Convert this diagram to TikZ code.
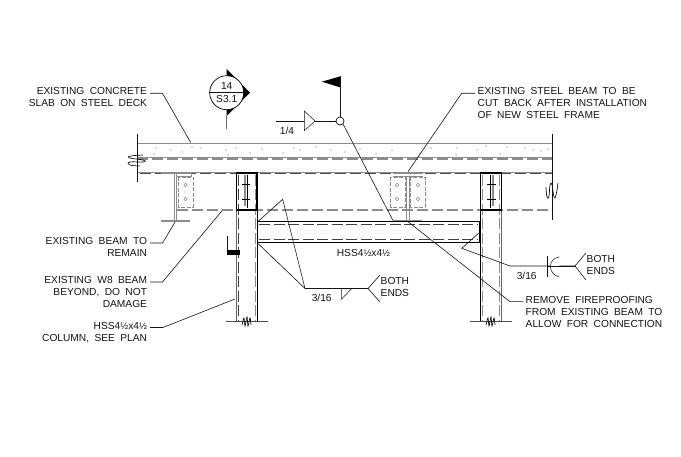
\documentclass[tikz,border=0pt]{standalone}
\usepackage{fontspec}
\setmainfont[WordSpace=1.9]{Liberation Sans}
\definecolor{exist}{gray}{0.55}
\definecolor{lightdot}{gray}{0.72}
\definecolor{ink}{gray}{0.08}
\newcommand{\halfmark}{{\fontsize{9.5}{10}\selectfont ½}}
\tikzset{
  note/.style={font=\fontsize{10.2}{12}\selectfont,text=ink,inner sep=0pt,outer sep=0pt},
  noteR/.style={note,anchor=north east,align=right},
  noteL/.style={note,anchor=north west,align=left},
  leader/.style={draw=ink,line width=0.6pt},
  weldline/.style={draw=ink,line width=0.7pt},
  weldsym/.style={draw=ink,line width=0.5pt},
  existsolid/.style={draw=exist,line width=1.1pt},
  existdash/.style={draw=exist,line width=1.3pt,dash pattern=on 11pt off 4pt},
  hssline/.style={draw=black,line width=1pt},
  hssdash/.style={draw=black!75,line width=1pt,dash pattern=on 11pt off 3.5pt},
  conn/.style={draw=exist,line width=0.8pt},
  plate/.style={draw=exist,line width=0.8pt,dash pattern=on 4pt off 1.5pt},
  hole/.style={circle,draw=exist,line width=0.6pt,inner sep=0pt,minimum size=3.6pt},
  heavy/.style={draw=black,line width=1.6pt},
  brk/.style={draw=ink,line width=0.7pt},
}
\begin{document}
\begin{tikzpicture}[x=1pt,y=-1pt]
\useasboundingbox (0,0) rectangle (681,457);
\fill[white] (0,0) rectangle (681,457);

% slab and beam lines
\draw[existsolid] (137,143.5) -- (552,143.5);
\draw[existsolid,line width=0.7pt] (137,157.6) -- (552,157.6);
\draw[existdash] (137,159) -- (552,159);
\draw[existsolid] (137,172.4) -- (552,172.4);
\draw[existdash,draw=black!70] (140,173.6) -- (552,173.6);
\draw[existdash] (177,210) -- (552,210);
% concrete stipple
\foreach \px/\py in {154/154,156/148,171/150,182/152,192/147,201/148,226/150,228/155,236/148,250/153,262/149,283/153,294/148,300/150,316/147,331/150,345/152,360/149,376/154,392/150,420/153,431/148,456/155,457/148,477/150,486/146,500/154,507/147,525/148,533/150,541/151,548/149}
  \fill[lightdot] (\px,\py) circle (0.8pt);

% break lines slab
\draw[brk] (137,134) -- (137,182);
\draw[brk] (552,134) -- (552,220);
\draw[brk] plot[smooth,tension=0.8] coordinates {(143,155) (131,156) (130,158) (143,160) (143,162) (130,162) (130,165) (140,166)};
\draw[brk] plot[smooth,tension=0.8] coordinates {(558,183) (556,195) (554,197) (552,185) (550,185) (549,196) (547,197) (546,187)};

% left beam
\draw[conn,line width=1.3pt] (161,173.4) -- (191,173.4);
\draw[conn] (174,174) -- (174,220); \draw[conn] (176.5,174) -- (176.5,220);
\draw[conn,line width=2pt] (161,220.7) -- (190,220.7);
\draw[conn] (176,176.5) -- (191,176.5) -- (191,173.5);
\draw[plate] (178,177) rectangle (193,207);
\node[hole] (lh1) at (185.5,185) {};
\node[hole] (lh2) at (185.5,199) {};

% centre beam
\draw[conn,line width=1.3pt] (392.5,173.4) -- (422.5,173.4);
\draw[conn] (392.5,176) -- (422.5,176);
\draw[conn] (406.5,176) -- (406.5,220); \draw[conn] (409,176) -- (409,220);
\draw[conn,line width=2pt] (393,220.7) -- (422,220.7);
\draw[plate] (390,177) rectangle (405,207);
\draw[plate] (410.5,177) rectangle (425,207);
\node[hole] (ch1) at (397,185) {};
\node[hole] (ch2) at (397,199) {};
\node[hole] (ch3) at (418,185) {};
\node[hole] (ch4) at (418,199) {};

% left column
\draw[hssline,draw=black!60] (236.5,210) -- (236.5,322);
\draw[hssline] (257,210) -- (257,322);
\draw[hssdash] (238.3,175) -- (238.3,322);
\draw[hssdash,draw=exist] (255,175) -- (255,322);
\draw[heavy,line width=1.4pt] (236.5,210) -- (236.5,173) -- (257,173) -- (257,210);
\draw[heavy] (236,210) -- (257.5,210);
\draw[conn,line width=1.3pt] (245,175) -- (245,206);
\draw[heavy,line width=1.3pt] (247.5,175) -- (247.5,208);
\draw[draw=black,line width=0.7pt] (242,184) -- (250,184) (242,199) -- (250,199);
\draw[brk,line width=1pt,draw=black!70] (226,322) -- (268,322);
\draw[brk] plot[smooth,tension=0.6] coordinates {(242,325) (244,318) (245,326) (247,317) (248,326) (250,318) (251,325)};

% right column
\draw[hssline] (480,210) -- (480,322);
\draw[hssline,draw=black!60] (501.5,210) -- (501.5,322);
\draw[hssdash,draw=exist] (482,175) -- (482,322);
\draw[hssdash,draw=exist] (499.7,175) -- (499.7,322);
\draw[heavy,line width=1.4pt] (480.3,210) -- (480.3,173) -- (501.5,173) -- (501.5,210);
\draw[heavy] (480,210) -- (502,210);
\draw[heavy,line width=1.3pt] (490.8,175) -- (490.8,208);
\draw[conn,line width=1.3pt] (493,175) -- (493,206);
\draw[draw=black,line width=0.7pt] (487,184) -- (496,184) (487,199) -- (496,199);
\draw[brk,line width=1pt,draw=black!70] (470,322) -- (512,322);
\draw[brk] plot[smooth,tension=0.6] coordinates {(486,325) (488,318) (489,326) (491,317) (492,326) (494,318) (495,325)};

% HSS beam
\draw[hssline] (257,222) -- (480,222);
\draw[hssline] (257,242.7) -- (480,242.7);
\draw[hssdash] (259,225) -- (478,225);
\draw[hssdash] (259,240) -- (478,240);
\draw[heavy] (480,222) -- (480,243);
\draw[heavy] (257.4,222) -- (257.4,243);

% black block on left column
\draw[brk] (227,236) -- (227,251);
\fill[black] (226.7,250) rectangle (240,255.3);

% section marker
\coordinate (sectop) at (226.7,69);
\coordinate (secr) at (250,92.7);
\coordinate (secbot) at (226.7,116);
\coordinate (secstub) at (226.7,129);
\fill[black] (sectop) -- (secr) -- (secbot) -- cycle;
\draw[leader,line width=1pt,draw=black!60] (secbot) -- (secstub);
\node[circle,draw=black,fill=white,line width=0.7pt,minimum size=34pt,inner sep=0pt] (seccirc) at (226.7,92.7) {};
\draw[leader] (seccirc.west) -- (seccirc.east);
\node[note] (secnum) at (226.7,86.2) {14};
\node[note] (secref) at (226.7,99.2) {S3.1};

% weld 1/4
\coordinate (flagt) at (340,76.5);
\coordinate (flagtip) at (321.7,81.7);
\coordinate (flagb) at (340,87.3);
\coordinate (w1l) at (276,121);
\coordinate (w1end) at (393,220.5);
\node[circle,draw=ink,line width=0.7pt,minimum size=8pt,inner sep=0pt] (wc) at (340,121) {};
\fill[black] (flagt) -- (flagtip) -- (flagb) -- cycle;
\draw[weldline] (flagt) -- (wc.north);
\draw[weldline] (w1l) -- (wc.west);
\draw[weldsym,fill=white] (304.3,111) -- (315,121) -- (304.3,130.7) -- cycle;
\draw[leader] (wc.south east) -- (w1end);
\node[note] (w1t) at (287,130.5) {1/4};

% weld left 3/16
\coordinate (wlA) at (305,288.5);
\coordinate (wlB) at (368,288.5);
\coordinate (wlC) at (282.7,199.3);
\coordinate (wlD) at (258,221.5);
\coordinate (wlE) at (258,243.5);
\coordinate (wlF) at (380,275);
\coordinate (wlG) at (380,302);
\draw[leader] (wlD) -- (wlC) -- (wlA) -- (wlE);
\draw[weldline] (wlA) -- (wlB);
\draw[leader] (wlF) -- (wlB) -- (wlG);
\draw[weldsym] (341.7,288.5) -- (341.7,299) -- (351.7,288.5);
\node[note] (wlt) at (321.7,297.5) {3/16};
\node[noteL] (wlboth) at (380.7,277.2) {BOTH\\ENDS};

% weld right 3/16
\coordinate (wrA) at (461.7,248.3);
\coordinate (wrB) at (479,233);
\coordinate (wrC) at (510,266);
\coordinate (wrD) at (575,266);
\coordinate (wrE) at (586,253);
\coordinate (wrF) at (586,280);
\draw[leader] (wrB) -- (wrA) -- (wrC) -- (wrD);
\draw[leader] (wrE) -- (wrD) -- (wrF);
\draw[weldline] (547.7,256.5) -- (547.7,276.7);
\draw[weldsym,fill=white] (559.3,256.8) .. controls (553,258) and (550.5,262) .. (550.5,266.5) .. controls (550.5,271) and (553,275.5) .. (559.3,277);
\draw[leader] (547.7,266) -- (575,266);
\node[note] (wrt) at (526.7,275.5) {3/16};
\node[noteL] (wrboth) at (586.7,255.2) {BOTH\\ENDS};

% beam label
\node[note] (hssb) at (363.5,252.7) {HSS4\halfmark x4\halfmark};

% leader notes
\node[noteR] (n1) at (147,87) {EXISTING CONCRETE\\SLAB ON STEEL DECK};
\coordinate (n1a) at (150,93.3); \coordinate (n1b) at (162.5,93.3); \coordinate (n1c) at (190.7,142.5);
\draw[leader] (n1a) -- (n1b) -- (n1c);

\node[noteL] (n2) at (477.7,87) {EXISTING STEEL BEAM TO BE\\CUT BACK AFTER INSTALLATION\\OF NEW STEEL FRAME};
\coordinate (n2a) at (475,93.3); \coordinate (n2b) at (461.7,93.3); \coordinate (n2c) at (408,171.7);
\draw[leader] (n2a) -- (n2b) -- (n2c);

\node[noteR] (n3) at (147,237) {EXISTING BEAM TO\\REMAIN};
\coordinate (n3a) at (150,243); \coordinate (n3b) at (162.6,243); \coordinate (n3c) at (175,222);
\draw[leader] (n3a) -- (n3b) -- (n3c);

\node[noteR] (n4) at (147,276) {EXISTING W8 BEAM\\BEYOND, DO NOT\\DAMAGE};
\coordinate (n4a) at (150,282); \coordinate (n4b) at (162.5,282); \coordinate (n4c) at (222,210.8);
\draw[leader] (n4a) -- (n4b) -- (n4c);

\node[noteR] (n5) at (147,322) {HSS4\halfmark x4\halfmark\\COLUMN, SEE PLAN};
\coordinate (n5a) at (150,327.5); \coordinate (n5b) at (163,327.5); \coordinate (n5c) at (235,299);
\draw[leader] (n5a) -- (n5b) -- (n5c);

\node[noteL] (n6) at (525.7,296) {REMOVE FIREPROOFING\\FROM EXISTING BEAM TO\\ALLOW FOR CONNECTION};
\coordinate (n6a) at (523,301.7); \coordinate (n6b) at (510,301.7); \coordinate (n6c) at (408,221.7);
\draw[leader] (n6a) -- (n6b) -- (n6c);
\end{tikzpicture}
\end{document}
